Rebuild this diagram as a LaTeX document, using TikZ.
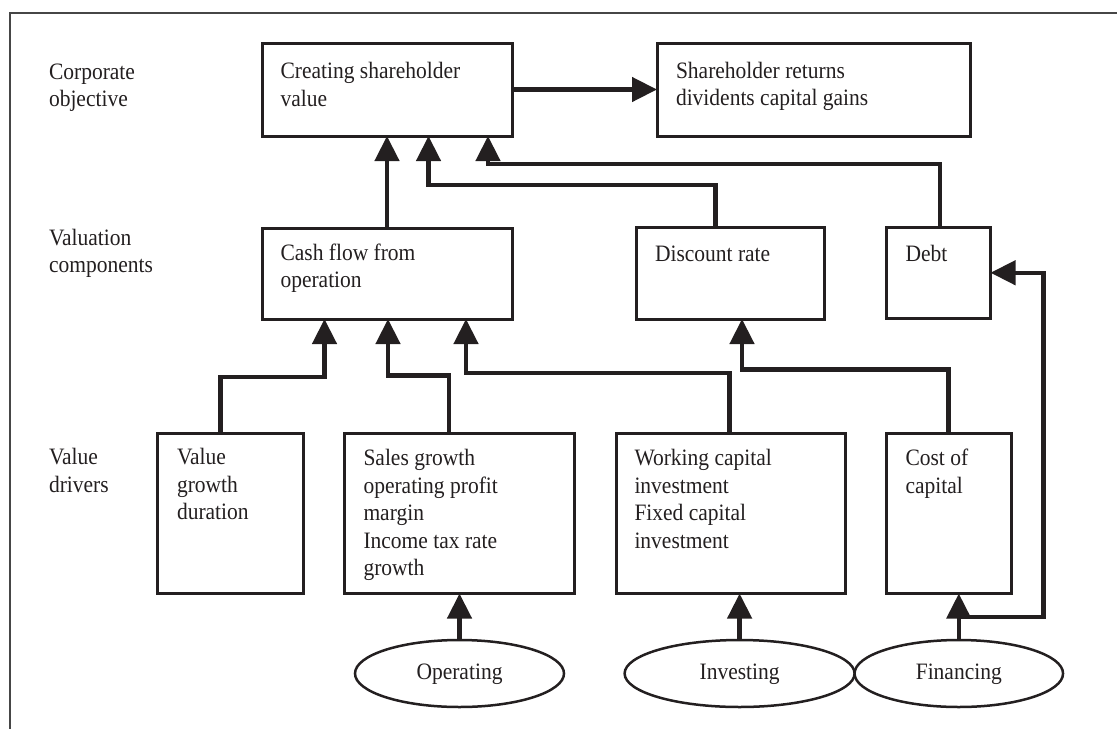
\documentclass[tikz,border=0pt]{standalone}
\usepackage{fontspec}
\usepackage{graphicx}
\setmainfont{Liberation Serif}
\usetikzlibrary{arrows.meta,shapes.geometric}
\definecolor{ink}{RGB}{35,31,32}
\definecolor{framec}{RGB}{70,70,70}
\newcommand{\ml}[1]{\scalebox{0.915}[1]{\begin{tabular}[t]{@{}l@{}}#1\end{tabular}}}
\begin{document}
\begin{tikzpicture}[x=1pt,y=-1pt,
  box/.style={draw=ink,line width=3pt,rectangle,inner sep=0pt,outer sep=0pt,anchor=north west},
  oval/.style={draw=ink,line width=2.5pt,ellipse,inner sep=0pt,outer sep=0pt,minimum height=67pt,font=\fontsize{23.5}{27.5}\selectfont,text=ink},
  txt/.style={anchor=base west,inner sep=0pt,outer sep=0pt,font=\fontsize{23.5}{27.5}\selectfont,text=ink},
  conn/.style={draw=ink,line width=4.5pt,line join=miter,-{Triangle[length=25pt,width=24pt]}}
]
\useasboundingbox (0,0) rectangle (1117,729);
% frame (top and left edges)
\draw[framec,line width=2pt] (1117,13) -- (9.5,13) -- (9.5,729);

% row labels
\node[txt] (lab1) at (49,79) {\ml{Corporate\\objective}};
\node[txt] (lab2) at (49,245) {\ml{Valuation\\components}};
\node[txt] (lab3) at (49,464.5) {\ml{Value\\drivers}};

% boxes
\node[box,minimum width=250pt,minimum height=93pt] (A) at (262,43) {};
\node[txt] (tA) at (280.5,78.5) {\ml{Creating shareholder\\value}};
\node[box,minimum width=313pt,minimum height=93pt] (B) at (657,43) {};
\node[txt] (tB) at (676,78) {\ml{Shareholder returns\\dividents capital gains}};

\node[box,minimum width=250pt,minimum height=91pt] (C) at (262,228) {};
\node[txt] (tC) at (280.5,260) {\ml{Cash flow from\\operation}};
\node[box,minimum width=188.5pt,minimum height=92pt] (D) at (636,227) {};
\node[txt] (tD) at (655,261) {\ml{Discount rate}};
\node[box,minimum width=104pt,minimum height=91.5pt] (E) at (886.5,227) {};
\node[txt] (tE) at (905.5,261) {\ml{Debt}};

\node[box,minimum width=146.5pt,minimum height=160.5pt] (F) at (157,433) {};
\node[txt] (tF) at (177,464.5) {\ml{Value\\growth\\duration}};
\node[box,minimum width=229.5pt,minimum height=160.5pt] (G) at (344.5,433) {};
\node[txt] (tG) at (363.5,465.5) {\ml{Sales growth\\operating profit\\margin\\Income tax rate\\growth}};
\node[box,minimum width=229pt,minimum height=160.5pt] (H) at (616,433) {};
\node[txt] (tH) at (634.5,465.5) {\ml{Working capital\\investment\\Fixed capital\\investment}};
\node[box,minimum width=125pt,minimum height=160.5pt] (I) at (886.5,433) {};
\node[txt] (tI) at (905.5,465.5) {\ml{Cost of\\capital}};

% ellipses
\node[oval,minimum width=209pt] (Op) at (459.5,673.5) {\ml{Operating}};
\node[oval,minimum width=230pt] (Inv) at (739.6,673.5) {\ml{Investing}};
\node[oval,minimum width=208.5pt] (Fin) at (958.8,673.5) {\ml{Financing}};

% connectors
\draw[conn] (A.east) -- (A.east -| B.west);
\draw[conn] ([xshift=125pt]C.north west) -- ([xshift=125pt]A.south west);
\draw[conn] ([xshift=79.5pt]D.north west) -- ++(0,-42) -| ([xshift=166.5pt]A.south west);
\draw[conn] ([xshift=53.5pt]E.north west) -- ++(0,-63) -| ([xshift=226pt]A.south west);
\draw[conn] ([xshift=63.5pt]F.north west) -- ++(0,-56) -| ([xshift=62.5pt]C.south west);
\draw[conn] ([xshift=104.5pt]G.north west) -- ++(0,-57.5) -| ([xshift=126pt]C.south west);
\draw[conn] ([xshift=113.5pt]H.north west) -- ++(0,-60) -| ([xshift=204pt]C.south west);
\draw[conn] ([xshift=62pt]I.north west) -- ++(0,-63.5) -| ([xshift=106pt]D.south west);
\draw[conn] (Op.north) -- (Op.north |- G.south);
\draw[conn] (Inv.north) -- (Inv.north |- H.south);
\draw[conn] (Fin.north) -- (Fin.north |- I.south);
\draw[conn] ([yshift=23pt]Fin.north) -- ++(84.5,0) |- (E.east);
\end{tikzpicture}
\end{document}
